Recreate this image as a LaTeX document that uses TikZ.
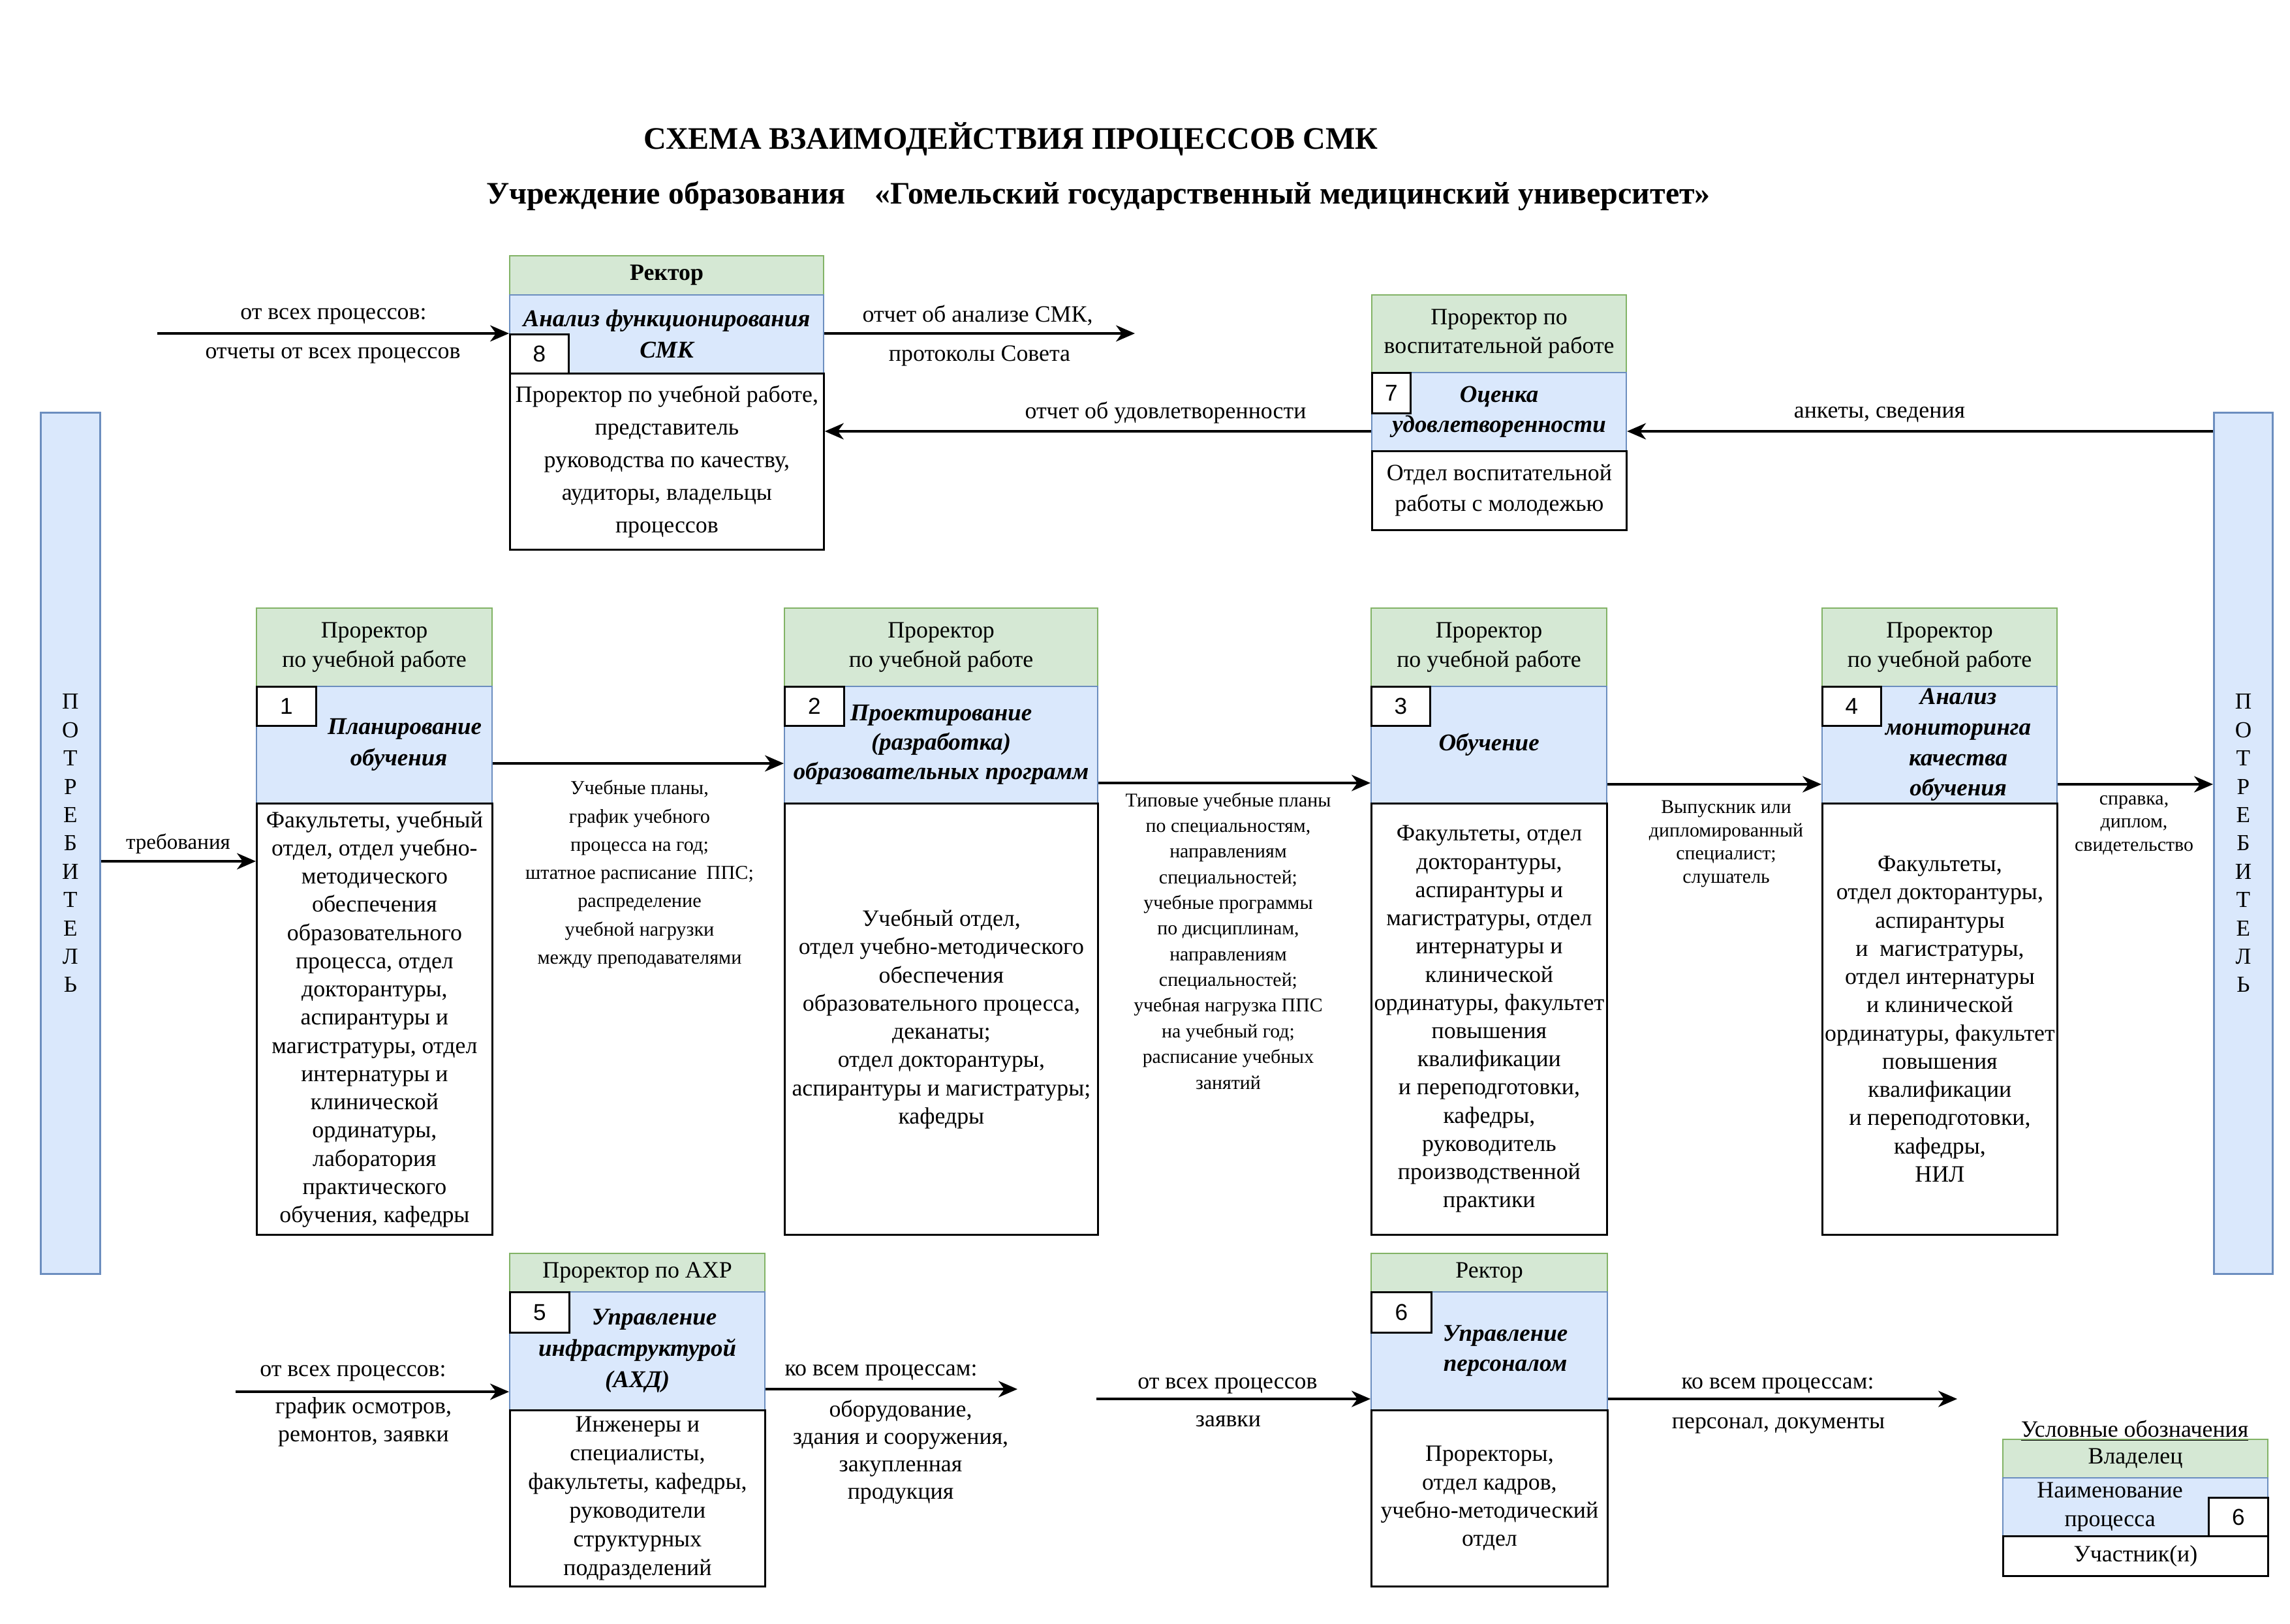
\documentclass[tikz,border=0pt]{standalone}
\usepackage{fontspec}
\setmainfont{Liberation Serif}
\setsansfont{Liberation Sans}
\usetikzlibrary{arrows.meta}

\definecolor{ownerfill}{HTML}{D5E8D4}
\definecolor{ownerline}{HTML}{82B366}
\definecolor{namefill}{HTML}{DAE8FC}
\definecolor{nameline}{HTML}{6C8EBF}

\begin{document}
\begin{tikzpicture}[x=1mm, y=1mm,
  owner/.style={draw=ownerline, fill=ownerfill, line width=0.6pt, anchor=north west, inner sep=0pt, align=center, font=\fontsize{10.2}{12.8}\selectfont},
  procname/.style={draw=nameline, fill=namefill, line width=0.6pt, anchor=north west, inner sep=0pt, align=center, font=\bfseries\itshape\fontsize{10.5}{13.4}\selectfont},
  members/.style={draw, line width=0.8pt, fill=white, anchor=north west, inner sep=0pt, align=center, font=\fontsize{10.2}{12.3}\selectfont},
  numbox/.style={draw, line width=0.8pt, fill=white, anchor=north west, inner sep=0pt, font=\sffamily\fontsize{10}{12}\selectfont},
  consumer/.style={draw=nameline, fill=namefill, line width=0.8pt, anchor=north west, inner sep=0pt, align=center, minimum height=132mm, font=\fontsize{10}{12.35}\selectfont},
  flow/.style={-{Stealth[length=2.9mm, width=2.5mm, inset=0.9mm]}, line width=0.9pt},
  lbl/.style={align=center, inner sep=0pt, font=\fontsize{10.2}{12.3}\selectfont},
  smalllbl/.style={align=center, inner sep=0pt, font=\fontsize{8.6}{12.3}\selectfont}
]
\path[use as bounding box] (0,0) rectangle (350.9,-248.8);

% Title
\node[font=\bfseries\fontsize{13.65}{16}\selectfont] (title) at (154.9,-21.3) {СХЕМА ВЗАИМОДЕЙСТВИЯ ПРОЦЕССОВ СМК};
\node[font=\bfseries\fontsize{13.65}{16}\selectfont] (subtitle) at (168.3,-30.0) {Учреждение образования\hspace{4.5mm}«Гомельский государственный медицинский университет»};

% Consumers
\node[consumer, minimum width=9.1mm] (cons1) at (6.1,-63.1) {П\\О\\Т\\Р\\Е\\Б\\И\\Т\\Е\\Л\\Ь};
\node[consumer, minimum width=9.0mm] (cons2) at (339.1,-63.1) {П\\О\\Т\\Р\\Е\\Б\\И\\Т\\Е\\Л\\Ь};

% Process 8
\node[owner, minimum width=48.1mm, minimum height=6mm, font=\bfseries\fontsize{10.2}{12.8}\selectfont] (own8) at (78.0,-39.1) {Ректор};
\node[procname, minimum width=48.1mm, minimum height=12mm, font=\bfseries\itshape\fontsize{10.5}{13.6}\selectfont] (name8) at (78.0,-45.1) {Анализ функционирования\\СМК};
\node[members, minimum width=48.1mm, minimum height=27mm, font=\fontsize{10.2}{14.2}\selectfont] (mem8) at (78.0,-57.1) {Проректор по учебной работе,\\представитель\\руководства по качеству,\\аудиторы, владельцы\\процессов};
\node[numbox, minimum width=9mm, minimum height=6mm] (num8) at (78.0,-51.1) {8};

% Process 7
\node[owner, minimum width=39mm, minimum height=11.9mm] (own7) at (210.1,-45.1) {Проректор по\\воспитательной работе};
\node[procname, minimum width=39mm, minimum height=12mm, font=\bfseries\itshape\fontsize{10.5}{13.1}\selectfont] (name7) at (210.1,-57.0) {Оценка\\удовлетворенности};
\node[members, minimum width=39mm, minimum height=12.1mm, font=\fontsize{10.2}{13.4}\selectfont] (mem7) at (210.1,-69.0) {Отдел воспитательной\\работы с молодежью};
\node[numbox, minimum width=5.9mm, minimum height=6.2mm] (num7) at (210.1,-57.0) {7};

% Process 1
\node[owner, minimum width=36.1mm, minimum height=12mm] (own1) at (39.2,-93.1) {Проректор\\по учебной работе};
\node[procname, minimum width=36.1mm, minimum height=17.9mm, font=\bfseries\itshape\fontsize{10.5}{13.6}\selectfont] (name1) at (39.2,-105.1) {\hspace*{9.3mm}Планирование\\\hspace*{7.5mm}обучения};
\node[members, minimum width=36.1mm, minimum height=66.1mm] (mem1) at (39.2,-123.0) {Факультеты, учебный\\отдел, отдел учебно-\\методического\\обеспечения\\образовательного\\процесса, отдел\\докторантуры,\\аспирантуры и\\магистратуры, отдел\\интернатуры и\\клинической\\ординатуры,\\лаборатория\\практического\\обучения, кафедры};
\node[numbox, minimum width=9.1mm, minimum height=6mm] (num1) at (39.2,-105.1) {1};

% Process 2
\node[owner, minimum width=48mm, minimum height=12mm] (own2) at (120.1,-93.1) {Проректор\\по учебной работе};
\node[procname, minimum width=48mm, minimum height=17.9mm, font=\bfseries\itshape\fontsize{10.5}{12.8}\selectfont] (name2) at (120.1,-105.1) {Проектирование\\(разработка)\\образовательных программ};
\node[members, minimum width=48mm, minimum height=66.1mm] (mem2) at (120.1,-123.0) {Учебный отдел,\\отдел учебно-методического\\обеспечения\\образовательного процесса,\\деканаты;\\отдел докторантуры,\\аспирантуры и магистратуры;\\кафедры};
\node[numbox, minimum width=9.1mm, minimum height=6mm] (num2) at (120.1,-105.1) {2};

% Process 3
\node[owner, minimum width=36.1mm, minimum height=12mm] (own3) at (210.0,-93.1) {Проректор\\по учебной работе};
\node[procname, minimum width=36.1mm, minimum height=17.9mm] (name3) at (210.0,-105.1) {Обучение};
\node[members, minimum width=36.1mm, minimum height=66.1mm] (mem3) at (210.0,-123.0) {Факультеты, отдел\\докторантуры,\\аспирантуры и\\магистратуры, отдел\\интернатуры и\\клинической\\ординатуры, факультет\\повышения\\квалификации\\и переподготовки,\\кафедры,\\руководитель\\производственной\\практики};
\node[numbox, minimum width=9.0mm, minimum height=6mm] (num3) at (210.0,-105.1) {3};

% Process 4
\node[owner, minimum width=36mm, minimum height=12mm] (own4) at (279.1,-93.1) {Проректор\\по учебной работе};
\node[procname, minimum width=36mm, minimum height=17.9mm, font=\bfseries\itshape\fontsize{10.5}{13.3}\selectfont] (name4) at (279.1,-105.1) {\hspace*{5.7mm}Анализ\\\hspace*{5.7mm}мониторинга\\\hspace*{5.7mm}качества\\\hspace*{5.7mm}обучения};
\node[members, minimum width=36mm, minimum height=66.1mm] (mem4) at (279.1,-123.0) {Факультеты,\\отдел докторантуры,\\аспирантуры\\и~~магистратуры,\\отдел интернатуры\\и клинической\\ординатуры, факультет\\повышения\\квалификации\\и переподготовки,\\кафедры,\\НИЛ};
\node[numbox, minimum width=9.0mm, minimum height=6mm] (num4) at (279.1,-105.1) {4};

% Process 5
\node[owner, minimum width=39.1mm, minimum height=5.9mm] (own5) at (78.0,-192.0) {Проректор по АХР};
\node[procname, minimum width=39.1mm, minimum height=18.1mm, font=\bfseries\itshape\fontsize{10.5}{13.6}\selectfont] (name5) at (78.0,-197.9) {\hspace*{5.2mm}Управление\\инфраструктурой\\(АХД)};
\node[members, minimum width=39.1mm, minimum height=27mm, font=\fontsize{10.2}{12.5}\selectfont] (mem5) at (78.0,-216.0) {Инженеры и\\специалисты,\\факультеты, кафедры,\\руководители\\структурных\\подразделений};
\node[numbox, minimum width=9.1mm, minimum height=6.2mm] (num5) at (78.0,-197.9) {5};

% Process 6
\node[owner, minimum width=36.2mm, minimum height=5.9mm] (own6) at (210.0,-192.0) {Ректор};
\node[procname, minimum width=36.2mm, minimum height=18.1mm, font=\bfseries\itshape\fontsize{10.5}{13.1}\selectfont] (name6) at (210.0,-197.9) {\hspace*{4.9mm}Управление\\\hspace*{4.9mm}персоналом};
\node[members, minimum width=36.2mm, minimum height=27mm] (mem6) at (210.0,-216.0) {Проректоры,\\отдел кадров,\\учебно-методический\\отдел};
\node[numbox, minimum width=9.2mm, minimum height=6.2mm] (num6) at (210.0,-197.9) {6};

% Legend
\node[owner, minimum width=40.6mm, minimum height=5.9mm] (legown) at (306.8,-220.5) {Владелец};
\node[procname, minimum width=40.6mm, minimum height=8.9mm, font=\fontsize{10.2}{12.5}\selectfont] (legname) at (306.8,-226.4) {Наименование\hspace*{7.8mm}\\процесса\hspace*{7.8mm}};
\node[members, minimum width=40.6mm, minimum height=6.1mm] (legmem) at (306.8,-235.3) {Участник(и)};
\node[numbox, minimum width=9.1mm, minimum height=5.9mm] (legnum) at (338.3,-229.4) {6};
\node[lbl] (legtitle) at (327.1,-219.3) {\underline{Условные обозначения}};

% Free ends
\coordinate (in8) at (24.1,-51.1);
\coordinate (out8) at (173.9,-51.1);
\coordinate (in5) at (36.1,-213.3);
\coordinate (out5) at (155.9,-212.9);
\coordinate (in6) at (168.0,-214.4);
\coordinate (out6) at (299.9,-214.4);

% Connectors
\draw[flow] (in8) -- (name8.west |- in8);
\draw[flow] (name8.east |- out8) -- (out8);
\draw[flow] (name7.west |- 0,-66.1) -- (mem8.east |- 0,-66.1);
\draw[flow] (cons2.west |- 0,-66.1) -- (name7.east |- 0,-66.1);
\draw[flow] (cons1.east |- 0,-132.0) -- (mem1.west |- 0,-132.0);
\draw[flow] (name1.east |- 0,-117.0) -- (name2.west |- 0,-117.0);
\draw[flow] (name2.east |- 0,-120.0) -- (name3.west |- 0,-120.0);
\draw[flow] (name3.east |- 0,-120.2) -- (name4.west |- 0,-120.2);
\draw[flow] (name4.east |- 0,-120.2) -- (cons2.west |- 0,-120.2);
\draw[flow] (in5) -- (name5.west |- in5);
\draw[flow] (name5.east |- out5) -- (out5);
\draw[flow] (in6) -- (name6.west |- in6);
\draw[flow] (name6.east |- out6) -- (out6);

% Connector labels
\node[lbl] (l8a) at (51.1,-48.5) {от всех процессов:};
\node[lbl] (l8b) at (51.0,-54.5) {отчеты от всех процессов};
\node[lbl] (l8c) at (149.8,-48.3) {отчет об анализе СМК,};
\node[lbl] (l8d) at (150.1,-54.5) {протоколы Совета};
\node[lbl] (l78) at (178.6,-63.3) {отчет об удовлетворенности};
\node[lbl] (lc7) at (288.0,-63.5) {анкеты, сведения};
\node[lbl, font=\fontsize{9.4}{11}\selectfont] (lc1) at (27.3,-129.3) {требования};
\node[smalllbl] (l12) at (98.0,-134.0) {Учебные планы,\\график учебного\\процесса на год;\\штатное расписание~~ППС;\\распределение\\учебной нагрузки\\между преподавателями};
\node[smalllbl, font=\fontsize{8.5}{11.2}\selectfont] (l23) at (188.2,-144.2) {Типовые учебные планы\\по специальностям,\\направлениям\\специальностей;\\учебные программы\\по дисциплинам,\\направлениям\\специальностей;\\учебная нагрузка ППС\\на учебный год;\\расписание учебных\\занятий};
\node[smalllbl, font=\fontsize{8.5}{10.1}\selectfont] (l34) at (264.5,-129.35) {Выпускник или\\дипломированный\\специалист;\\слушатель};
\node[smalllbl, font=\fontsize{8.5}{10.1}\selectfont] (l4c) at (327.0,-126.45) {справка,\\диплом,\\свидетельство};
\node[lbl] (l5a) at (54.1,-210.5) {от всех процессов:};
\node[lbl, font=\fontsize{10.2}{12.2}\selectfont] (l5b) at (55.7,-217.95) {график осмотров,\\ремонтов, заявки};
\node[lbl] (l5c) at (135.0,-210.4) {ко всем процессам:};
\node[lbl, font=\fontsize{10.2}{11.9}\selectfont] (l5d) at (138.0,-222.55) {оборудование,\\здания и сооружения,\\закупленная\\продукция};
\node[lbl] (l6a) at (188.1,-212.4) {от всех процессов};
\node[lbl] (l6b) at (188.2,-217.8) {заявки};
\node[lbl] (l6c) at (272.4,-212.4) {ко всем процессам:};
\node[lbl] (l6d) at (272.5,-218.5) {персонал, документы};
\end{tikzpicture}
\end{document}
